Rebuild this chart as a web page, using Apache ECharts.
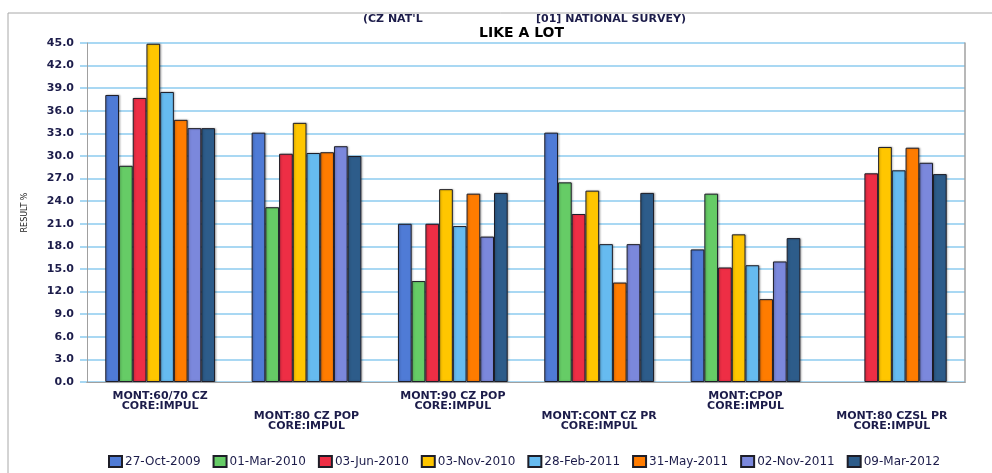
<!DOCTYPE html>
<html>
<head>
<meta charset="utf-8">
<script src="https://cdn.jsdelivr.net/npm/echarts@6/dist/echarts.min.js"></script>
<style>
  html, body { margin: 0; padding: 0; background: #fff; }
  #chart { width: 992px; height: 473px; }
</style>
</head>
<body>
<div id="chart"></div>
<script>
// categories (x axis, two-line labels)
const categories = [
  'MONT:60/70 CZ\nCORE:IMPUL',
  'MONT:80 CZ POP\nCORE:IMPUL',
  'MONT:90 CZ POP\nCORE:IMPUL',
  'MONT:CONT CZ PR\nCORE:IMPUL',
  'MONT:CPOP\nCORE:IMPUL',
  'MONT:80 CZSL PR\nCORE:IMPUL'
]

// one array per survey wave
const oct2009 = [38.1, 33.1, 21.0, 33.1, 17.6, null]
const mar2010 = [28.7, 23.2, 13.4, 26.5, 25.0, null]
const jun2010 = [37.7, 30.3, 21.0, 22.3, 15.2, 27.7]
const nov2010 = [44.9, 34.4, 25.6, 25.4, 19.6, 31.2]
const feb2011 = [38.5, 30.4, 20.7, 18.3, 15.5, 28.1]
const may2011 = [34.8, 30.5, 25.0, 13.2, 11.0, 31.1]
const nov2011 = [33.7, 31.3, 19.3, 18.3, 16.0, 29.1]
const mar2012 = [33.7, 30.0, 25.1, 25.1, 19.1, 27.6]

const seriesNames = ['27-Oct-2009', '01-Mar-2010', '03-Jun-2010', '03-Nov-2010',
  '28-Feb-2011', '31-May-2011', '02-Nov-2011', '09-Mar-2012']
const seriesData = [oct2009, mar2010, jun2010, nov2010, feb2011, may2011, nov2011, mar2012]
const colors = ['#4f7bd6', '#66cc66', '#ee2e45', '#ffc600', '#66bbf0', '#ff7c00', '#7b88dc', '#2d5c8a']

// y axis ticks
const yMin = 0
const yMax = 45
const yStep = 3

const textColor = '#1c1c4a'
const font = 'DejaVu Sans'
const frameColor = '#a0a0a0'

const chart = echarts.init(document.getElementById('chart'))

chart.setOption({
  animation: false,
  textStyle: { fontFamily: font },
  graphic: [
    {
      type: 'rect', z: -10, silent: true,
      shape: { x: 8, y: 13, width: 1000, height: 500 },
      style: { fill: 'none', stroke: '#a8a8a8', lineWidth: 1 }
    },
    {
      type: 'text', left: 363, top: 14,
      style: { text: "(CZ NAT'L", font: 'bold 11px "DejaVu Sans"', fill: textColor }
    },
    {
      type: 'text', left: 536, top: 14,
      style: { text: '[01] NATIONAL SURVEY)', font: 'bold 11px "DejaVu Sans"', fill: textColor }
    },
    {
      type: 'text', left: 479, top: 26,
      style: { text: 'LIKE A LOT', font: 'bold 14px "DejaVu Sans"', fill: '#000' }
    }
  ],
  legend: {
    left: 103,
    top: 450,
    itemWidth: 13,
    itemHeight: 11,
    itemGap: 12,
    icon: 'rect',
    textStyle: { fontSize: 12, color: textColor, fontFamily: font, padding: [0, 0, 0, -2] },
    data: seriesNames
  },
  grid: { left: 87, right: 27, top: 43, bottom: 91, containLabel: false },
  xAxis: [
    {
      type: 'category',
      data: categories,
      z: 5,
      axisLine: { lineStyle: { color: frameColor } },
      axisTick: { alignWithLabel: true, length: 4, lineStyle: { color: frameColor } },
      axisLabel: {
        interval: 0,
        margin: 9,
        fontSize: 11,
        fontWeight: 'bold',
        color: textColor,
        lineHeight: 10,
        formatter: (v, i) => (i % 2 === 1 ? '\n\n' + v : v)
      }
    },
    {
      type: 'category',
      position: 'top',
      data: categories,
      z: 5,
      axisLine: { lineStyle: { color: frameColor } },
      axisTick: { show: false },
      axisLabel: { show: false }
    }
  ],
  yAxis: [
    {
      type: 'value',
      min: yMin,
      max: yMax,
      interval: yStep,
      z: 1,
      name: 'RESULT %',
      nameLocation: 'middle',
      nameGap: 58,
      nameTextStyle: { fontSize: 8, color: '#222', fontFamily: font },
      axisLine: { show: true, lineStyle: { color: frameColor } },
      axisTick: { show: true, length: 7, lineStyle: { color: '#8ccbef', width: 1.5 } },
      axisLabel: {
        margin: 13,
        fontSize: 11,
        fontWeight: 'bold',
        color: textColor,
        formatter: v => v.toFixed(1)
      },
      splitLine: { lineStyle: { color: '#8ccbef', width: 1.5 } }
    },
    {
      type: 'value',
      position: 'right',
      min: yMin,
      max: yMax,
      interval: yStep,
      z: 5,
      axisLine: { show: true, lineStyle: { color: frameColor, width: 1.5 } },
      axisTick: { show: false },
      axisLabel: { show: false },
      splitLine: { show: false }
    }
  ],
  series: seriesNames.map((name, i) => ({
    name,
    type: 'bar',
    data: seriesData[i],
    barGap: '0%',
    barCategoryGap: '25%',
    itemStyle: {
      color: colors[i],
      borderColor: '#1e1e28',
      borderWidth: 1,
      shadowColor: 'rgba(0,0,0,0.25)',
      shadowBlur: 2,
      shadowOffsetX: 1
    }
  }))
})
</script>
</body>
</html>
